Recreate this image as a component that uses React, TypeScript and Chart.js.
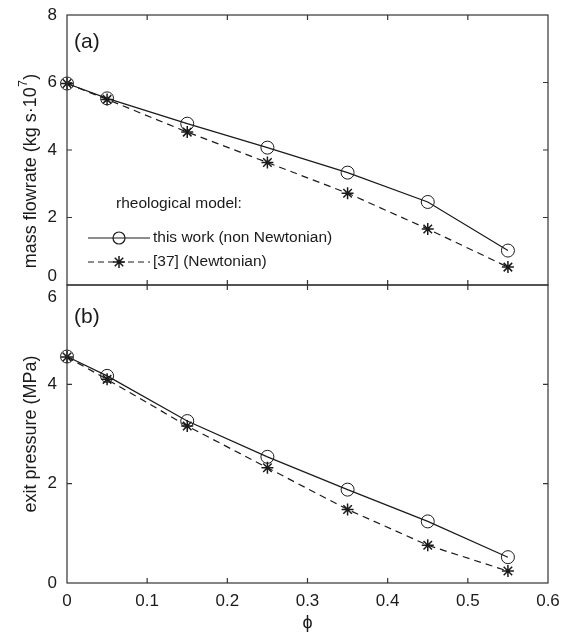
import React, { useEffect, useRef } from 'react';
import { Chart, registerables } from 'chart.js';
Chart.register(...registerables);

// ---- data ----
const phi = [0, 0.05, 0.15, 0.25, 0.35, 0.45, 0.55];
const flowNonNewtonian = [5.97, 5.53, 4.78, 4.07, 3.33, 2.46, 1.02];
const flowNewtonian = [5.97, 5.5, 4.53, 3.63, 2.72, 1.66, 0.53];
const pressureNonNewtonian = [4.56, 4.17, 3.26, 2.54, 1.88, 1.24, 0.52];
const pressureNewtonian = [4.55, 4.1, 3.16, 2.32, 1.48, 0.76, 0.24];

const xTicks = [0, 0.1, 0.2, 0.3, 0.4, 0.5, 0.6];
const xTickLabels = ['0', '0.1', '0.2', '0.3', '0.4', '0.5', '0.6'];
const flowTicks = [0, 2, 4, 6, 8];
const pressureTicks = [0, 2, 4, 6];

const seriesLabels = ['this work (non Newtonian)', '[37] (Newtonian)'];
const legendTitle = 'rheological model:';
const flowTitle = 'mass flowrate (kg s·10';
const pressureTitle = 'exit pressure (MPa)';
const xTitle = 'ϕ';

const FONT = "'Liberation Sans', Arial, Helvetica, 'DejaVu Sans', sans-serif";
const INK = '#1a1a1a';
const FRAME = '#333';
const DASH = [7, 5];

function toPts(ys: number[]) {
  return phi.map((x, i) => ({ x, y: ys[i] }));
}

function drawStar(ctx: CanvasRenderingContext2D, x: number, y: number, r: number) {
  ctx.beginPath();
  for (let k = 0; k < 4; k++) {
    const a = (k * Math.PI) / 4;
    ctx.moveTo(x + r * Math.cos(a), y + r * Math.sin(a));
    ctx.lineTo(x - r * Math.cos(a), y - r * Math.sin(a));
  }
  ctx.stroke();
}

function makeFramePlugin(kind: 'top' | 'bottom') {
  return {
    id: 'frame_' + kind,
    afterDraw(chart: any) {
      const { ctx, chartArea: a, scales } = chart;
      const xs = scales.x;
      const ys = scales.y;
      const yTicks = kind === 'top' ? flowTicks : pressureTicks;
      ctx.save();
      ctx.strokeStyle = FRAME;
      ctx.lineWidth = 1.2;
      ctx.setLineDash([]);
      ctx.strokeRect(a.left, a.top, a.right - a.left, a.bottom - a.top);
      const tl = 5;
      ctx.beginPath();
      xTicks.slice(1, -1).forEach((v) => {
        const px = xs.getPixelForValue(v);
        ctx.moveTo(px, a.bottom);
        ctx.lineTo(px, a.bottom - tl);
        ctx.moveTo(px, a.top);
        ctx.lineTo(px, a.top + tl);
      });
      yTicks.slice(1, -1).forEach((v) => {
        const py = ys.getPixelForValue(v);
        ctx.moveTo(a.left, py);
        ctx.lineTo(a.left + tl, py);
        ctx.moveTo(a.right, py);
        ctx.lineTo(a.right - tl, py);
      });
      ctx.stroke();

      ctx.fillStyle = INK;
      // panel label
      ctx.font = `21px ${FONT}`;
      ctx.textAlign = 'left';
      ctx.textBaseline = 'middle';
      ctx.fillText(kind === 'top' ? '(a)' : '(b)', a.left + 7, a.top + (kind === 'top' ? 27 : 32));

      // shifted tick label at shared border
      ctx.font = `17px ${FONT}`;
      ctx.textAlign = 'right';
      if (kind === 'top') {
        ctx.fillText(String(flowTicks[0]), a.left - 10, ys.getPixelForValue(flowTicks[0]) - 9);
      } else {
        ctx.fillText(String(pressureTicks[pressureTicks.length - 1]), a.left - 10,
          ys.getPixelForValue(pressureTicks[pressureTicks.length - 1]) + 12);
      }

      if (kind === 'top') {
        // y title with superscript
        ctx.save();
        ctx.translate(31, 171);
        ctx.rotate(-Math.PI / 2);
        ctx.textAlign = 'left';
        ctx.textBaseline = 'middle';
        const mainFont = `18px ${FONT}`;
        const supFont = `12px ${FONT}`;
        ctx.font = mainFont;
        const w1 = ctx.measureText(flowTitle).width;
        const w3 = ctx.measureText(')').width;
        ctx.font = supFont;
        const w2 = ctx.measureText('7').width;
        const total = w1 + w2 + w3 + 1;
        let x0 = -total / 2;
        ctx.font = mainFont;
        ctx.fillText(flowTitle, x0, 0);
        x0 += w1 + 0.5;
        ctx.font = supFont;
        ctx.fillText('7', x0, -7);
        x0 += w2 + 0.5;
        ctx.font = mainFont;
        ctx.fillText(')', x0, 0);
        ctx.restore();

        // legend
        ctx.font = `15.5px ${FONT}`;
        ctx.textAlign = 'left';
        ctx.textBaseline = 'middle';
        ctx.fillText(legendTitle, 116, 204);
        const lx0 = 88, lx1 = 150, mx = 119;
        const y1 = 238, y2 = 262;
        ctx.strokeStyle = INK;
        ctx.lineWidth = 1.2;
        ctx.beginPath();
        ctx.moveTo(lx0, y1);
        ctx.lineTo(lx1, y1);
        ctx.stroke();
        ctx.beginPath();
        ctx.arc(mx, y1, 6, 0, Math.PI * 2);
        ctx.stroke();
        ctx.setLineDash([6, 4]);
        ctx.beginPath();
        ctx.moveTo(lx0, y2);
        ctx.lineTo(lx1, y2);
        ctx.stroke();
        ctx.setLineDash([]);
        ctx.lineWidth = 1.5;
        drawStar(ctx, mx, y2, 6);
        ctx.fillText(seriesLabels[0], 153, y1);
        ctx.fillText(seriesLabels[1], 153, y2);
      }
      ctx.restore();
    },
  };
}

function datasetsFor(solid: number[], dashed: number[]) {
  return [
    {
      label: seriesLabels[0],
      data: toPts(solid),
      borderColor: INK,
      borderWidth: 1.2,
      pointStyle: 'circle',
      pointRadius: 6.5,
      pointBorderWidth: 1,
      pointBorderColor: INK,
      pointBackgroundColor: 'rgba(0,0,0,0)',
      tension: 0,
      clip: false as any,
    },
    {
      label: seriesLabels[1],
      data: toPts(dashed),
      borderColor: INK,
      borderWidth: 1.2,
      borderDash: DASH,
      pointStyle: 'star',
      pointRadius: 6,
      pointBorderWidth: 1.5,
      pointBorderColor: INK,
      pointBackgroundColor: INK,
      tension: 0,
      clip: false as any,
    },
  ];
}

function makeConfig(kind: 'top' | 'bottom'): any {
  const isTop = kind === 'top';
  const yTicks = isTop ? flowTicks : pressureTicks;
  return {
    type: 'line',
    data: {
      datasets: isTop
        ? datasetsFor(flowNonNewtonian, flowNewtonian)
        : datasetsFor(pressureNonNewtonian, pressureNewtonian),
    },
    options: {
      animation: false,
      responsive: false,
      events: [],
      layout: {
        padding: isTop
          ? { top: 15, right: 28, bottom: 350, left: 0 }
          : { top: 285, right: 28, bottom: 0, left: 0 },
      },
      plugins: { legend: { display: false }, tooltip: { enabled: false }, title: { display: false } },
      scales: {
        x: {
          type: 'linear',
          display: !isTop,
          min: xTicks[0],
          max: xTicks[xTicks.length - 1],
          afterBuildTicks: (s: any) => {
            s.ticks = xTicks.map((v) => ({ value: v }));
          },
          afterFit: (s: any) => {
            s.height = isTop ? 0 : 52;
            s.paddingLeft = 0;
            s.paddingRight = 0;
          },
          grid: { display: false, drawTicks: false },
          border: { display: false },
          ticks: {
            padding: 8,
            maxRotation: 0,
            autoSkip: false,
            color: INK,
            font: { family: FONT, size: 17 },
            callback: (v: number) => {
              const i = xTicks.findIndex((t) => Math.abs(t - v) < 1e-9);
              return i >= 0 ? xTickLabels[i] : '';
            },
          },
          title: {
            display: true,
            text: xTitle,
            color: INK,
            font: { family: FONT, size: 18 },
            padding: { top: 0, bottom: 1 },
          },
        },
        y: {
          type: 'linear',
          min: yTicks[0],
          max: yTicks[yTicks.length - 1],
          afterBuildTicks: (s: any) => {
            s.ticks = yTicks.map((v) => ({ value: v }));
          },
          afterFit: (s: any) => {
            s.width = 67;
            s.paddingTop = 0;
            s.paddingBottom = 0;
          },
          grid: { display: false, drawTicks: false },
          border: { display: false },
          ticks: {
            padding: 10,
            autoSkip: false,
            color: INK,
            font: { family: FONT, size: 17 },
            callback: (v: number) => {
              if (isTop && v === yTicks[0]) return '';
              if (!isTop && v === yTicks[yTicks.length - 1]) return '';
              return String(v);
            },
          },
          title: {
            display: !isTop,
            text: pressureTitle,
            color: INK,
            font: { family: FONT, size: 18 },
            padding: { top: 20, bottom: 0 },
          },
        },
      },
    },
    plugins: [makeFramePlugin(kind)],
  };
}

export default function App() {
  const topRef = useRef<HTMLCanvasElement>(null);
  const botRef = useRef<HTMLCanvasElement>(null);
  useEffect(() => {
    const c1 = new Chart(topRef.current as HTMLCanvasElement, makeConfig('top'));
    const c2 = new Chart(botRef.current as HTMLCanvasElement, makeConfig('bottom'));
    return () => {
      c1.destroy();
      c2.destroy();
    };
  }, []);
  const style: React.CSSProperties = { position: 'absolute', left: 0, top: 0, display: 'block' };
  return (
    <div style={{ position: 'absolute', left: 0, top: 0, width: 576, height: 635, background: '#fff' }}>
      <canvas ref={topRef} width={576} height={635} style={style} />
      <canvas ref={botRef} width={576} height={635} style={style} />
    </div>
  );
}
